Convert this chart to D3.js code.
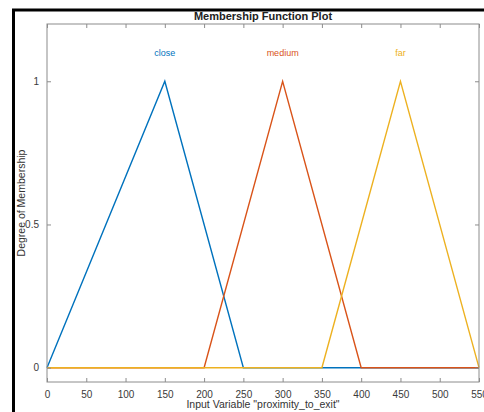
<!DOCTYPE html>
<html>
<head>
<meta charset="utf-8">
<script src="https://cdn.jsdelivr.net/npm/d3@7"></script>
<style>
  body { margin: 0; background: #fff; }
  text { font-family: "Liberation Sans", Arial, sans-serif; }
</style>
</head>
<body>
<div id="chart"></div>
<script>
// membership functions (trimf params)
var names = ["close", "medium", "far"];
var params = [[0, 150, 250], [200, 300, 400], [350, 450, 550]];
var colors = ["#0072BD", "#D95319", "#EDB120"];
var xTicks = [0, 50, 100, 150, 200, 250, 300, 350, 400, 450, 500, 550];
var yTicks = [0, 0.5, 1];

var width = 484, height = 412;
var mLeft = 47, mRight = 479, mTop = 24, mBottom = 382;

var svg = d3.select("#chart")
    .append("svg")
    .attr("width", width)
    .attr("height", height);

// outer black frame
svg.append("rect")
    .attr("x", 13.5).attr("y", 10)
    .attr("width", 500).attr("height", 420)
    .attr("fill", "#fff")
    .attr("stroke", "#000")
    .attr("stroke-width", 3);

var x = d3.scaleLinear().domain([0, 550]).range([mLeft, mRight]);
var y = d3.scaleLinear().domain([-0.05, 1.2]).range([mBottom, mTop]);

// lines: each trimf as polyline over the whole domain
var line = d3.line().x(d => x(d[0])).y(d => y(d[1]));
params.forEach(function(p, i) {
    var pts = [[0, 0]];
    if (p[0] > 0) pts.push([p[0], 0]);
    pts.push([p[1], 1]);
    pts.push([p[2], 0]);
    if (p[2] < 550) pts.push([550, 0]);
    svg.append("path")
        .attr("d", line(pts))
        .attr("fill", "none")
        .attr("stroke", colors[i])
        .attr("stroke-width", 1.4);
    svg.append("text")
        .attr("x", x(p[1]))
        .attr("y", y(1.1) + 3)
        .attr("text-anchor", "middle")
        .attr("font-size", 9)
        .attr("fill", colors[i])
        .text(names[i]);
});

// axes box with inward ticks
var axisColor = "#8c8c8c";
svg.append("rect")
    .attr("x", mLeft).attr("y", mTop)
    .attr("width", mRight - mLeft).attr("height", mBottom - mTop)
    .attr("fill", "none")
    .attr("stroke", axisColor)
    .attr("stroke-width", 1);

var xb = svg.append("g")
    .attr("transform", "translate(0," + mBottom + ")")
    .call(d3.axisBottom(x).tickValues(xTicks).tickSizeInner(-4).tickSizeOuter(0).tickPadding(9));
var xt = svg.append("g")
    .attr("transform", "translate(0," + mTop + ")")
    .call(d3.axisTop(x).tickValues(xTicks).tickSizeInner(-4).tickSizeOuter(0).tickFormat(""));
var yl = svg.append("g")
    .attr("transform", "translate(" + mLeft + ",0)")
    .call(d3.axisLeft(y).tickValues(yTicks).tickSizeInner(-4).tickSizeOuter(0).tickPadding(8).tickFormat(d3.format("")));
var yr = svg.append("g")
    .attr("transform", "translate(" + mRight + ",0)")
    .call(d3.axisRight(y).tickValues(yTicks).tickSizeInner(-4).tickSizeOuter(0).tickFormat(""));

[xb, xt, yl, yr].forEach(function(g) {
    g.select(".domain").remove();
    g.selectAll("line").attr("stroke", axisColor);
    g.selectAll("text")
        .attr("font-size", 10)
        .attr("fill", "#3a3a3a")
        .style("font-family", "\"Liberation Sans\", Arial, sans-serif");
});

// titles
svg.append("text")
    .attr("x", (mLeft + mRight) / 2)
    .attr("y", 20)
    .attr("text-anchor", "middle")
    .attr("font-size", 11)
    .attr("font-weight", "bold")
    .attr("fill", "#222")
    .text("Membership Function Plot");

svg.append("text")
    .attr("x", (mLeft + mRight) / 2)
    .attr("y", 408)
    .attr("text-anchor", "middle")
    .attr("font-size", 10.5)
    .attr("fill", "#333")
    .text("Input Variable \"proximity_to_exit\"");

svg.append("text")
    .attr("transform", "translate(25," + (mTop + mBottom) / 2 + ") rotate(-90)")
    .attr("text-anchor", "middle")
    .attr("font-size", 10.5)
    .attr("fill", "#333")
    .text("Degree of Membership");
</script>
</body>
</html>
